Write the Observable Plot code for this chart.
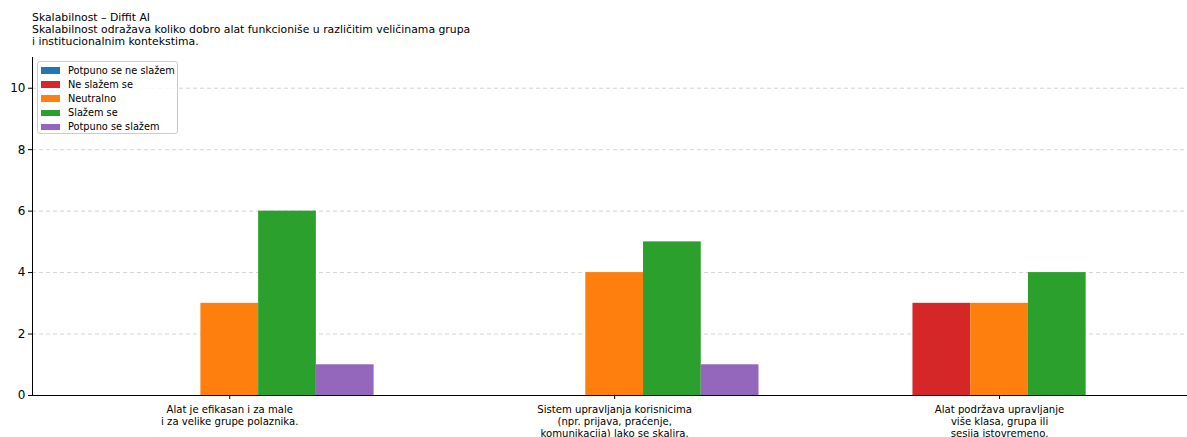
<!DOCTYPE html>
<html>
<head>
<meta charset="utf-8">
<script src="https://cdn.jsdelivr.net/npm/d3@7"></script>
<script src="https://cdn.jsdelivr.net/npm/@observablehq/plot@0.6"></script>
<style>
  html, body { margin: 0; padding: 0; background: #fff; font-family: "DejaVu Sans", sans-serif; overflow: hidden; }
  #wrap { position: relative; width: 1187px; height: 437px; overflow: hidden; }
  #chart svg { display: block; max-width: none; }
  #title { position: absolute; left: 32px; top: 11.5px; font-size: 10.85px; line-height: 12px; color: #000; white-space: pre; }
  #legend { position: absolute; left: 37px; top: 61px; width: 141px; height: 73px; border: 1px solid #ccc; border-radius: 3px; background: rgba(255,255,255,0.8); font-size: 9.75px; box-sizing: border-box; padding-top: 1.5px; }
  .row { position: relative; height: 14.2px; }
  .sw { position: absolute; left: 3px; top: 3.5px; width: 19px; height: 6.5px; }
  .lb { position: absolute; left: 30px; top: 0px; line-height: 13px; color: #000; white-space: nowrap; }
</style>
</head>
<body>
<div id="wrap">
  <div id="chart"></div>
  <div id="title"></div>
  <div id="legend"></div>
</div>
<script>
const titleLines = ["Skalabilnost – Diffit AI", "Skalabilnost odražava koliko dobro alat funkcioniše u različitim veličinama grupa", "i institucionalnim kontekstima."];
const categories = [
  "Alat je efikasan i za male\ni za velike grupe polaznika.",
  "Sistem upravljanja korisnicima\n(npr. prijava, praćenje,\nkomunikacija) lako se skalira.",
  "Alat podržava upravljanje\nviše klasa, grupa ili\nsesija istovremeno."
];
const series = ["Potpuno se ne slažem", "Ne slažem se", "Neutralno", "Slažem se", "Potpuno se slažem"];
const colors = ["#1f77b4", "#d62728", "#ff7f0e", "#2ca02c", "#9467bd"];
const potpunoNe = [0, 0, 0];
const neSlazem = [0, 0, 3];
const neutralno = [3, 4, 3];
const slazem = [6, 5, 4];
const potpunoDa = [1, 1, 0];
const seriesValues = [potpunoNe, neSlazem, neutralno, slazem, potpunoDa];
const yTicks = [0, 2, 4, 6, 8, 10];

const barW = 0.15;
const data = [];
seriesValues.forEach((vals, si) => {
  vals.forEach((v, ci) => {
    data.push({ci, si, series: series[si], value: v,
      x1: ci + (si - 2.5) * barW, x2: ci + (si - 1.5) * barW});
  });
});

document.getElementById("title").textContent = titleLines.join("\n");
const leg = document.getElementById("legend");
series.forEach((s, i) => {
  const r = document.createElement("div"); r.className = "row";
  const sw = document.createElement("div"); sw.className = "sw"; sw.style.background = colors[i];
  const lb = document.createElement("div"); lb.className = "lb"; lb.textContent = s;
  r.appendChild(sw); r.appendChild(lb); leg.appendChild(r);
});

const plot = Plot.plot({
  width: 1187,
  height: 437,
  marginLeft: 32,
  marginRight: 0,
  marginTop: 57,
  marginBottom: 42,
  style: { fontFamily: "DejaVu Sans, sans-serif", background: "#fff", color: "#000", maxWidth: "none" },
  x: { type: "linear", domain: [-0.5125, 2.4883] },
  y: { domain: [0, 11] },
  color: { domain: series, range: colors },
  marks: [
    Plot.gridY(yTicks, { stroke: "#b0b0b0", strokeOpacity: 0.7, strokeDasharray: "4,3", strokeWidth: 0.8 }),
    Plot.rectY(data.filter(d => d.value > 0), { x1: "x1", x2: "x2", y1: 0, y2: "value", fill: "series" }),
    Plot.axisY(yTicks, { tickSize: 4, tickPadding: 3, fontSize: 12, tickFormat: d => String(d), stroke: "#000", label: null }),
    Plot.axisX([0, 1, 2], { tickSize: 4, tickPadding: 5, fontSize: 10.1, tickFormat: i => categories[i], stroke: "#000", label: null, lineHeight: 1.19 }),
    Plot.ruleX([-0.5125], { stroke: "#000", strokeWidth: 1 }),
    Plot.ruleY([0], { stroke: "#000", strokeWidth: 1 })
  ]
});
document.getElementById("chart").appendChild(plot);
</script>
</body>
</html>
